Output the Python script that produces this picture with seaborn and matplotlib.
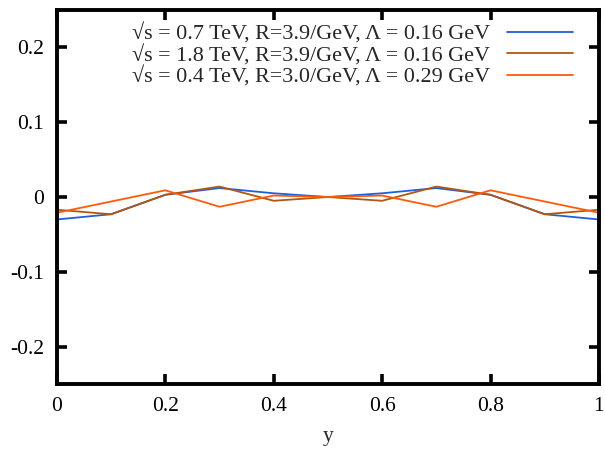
import matplotlib
matplotlib.use("Agg")
import matplotlib.pyplot as plt
import seaborn as sns
import pandas as pd

y_vals = [0.0, 0.1, 0.2, 0.3, 0.4, 0.5, 0.6, 0.7, 0.8, 0.9, 1.0]
series_a = [-0.030, -0.023, 0.003, 0.012, 0.005, 0.0, 0.005, 0.012, 0.003, -0.023, -0.030]
series_b = [-0.017, -0.023, 0.003, 0.014, -0.005, 0.0, -0.005, 0.014, 0.003, -0.023, -0.017]
series_c = [-0.021, -0.006, 0.009, -0.013, 0.002, 0.0, 0.002, -0.013, 0.009, -0.006, -0.021]
labels = [
    "√s = 0.7 TeV, R=3.9/GeV, Λ = 0.16 GeV",
    "√s = 1.8 TeV, R=3.9/GeV, Λ = 0.16 GeV",
    "√s = 0.4 TeV, R=3.0/GeV, Λ = 0.29 GeV",
]
colors = ["#1f5fd8", "#b3560f", "#ff5a0a"]

sns.set_style("ticks")
plt.rcParams["font.family"] = ["Liberation Serif", "DejaVu Serif"]

rows = []
for lab, vals in zip(labels, [series_a, series_b, series_c]):
    for x, v in zip(y_vals, vals):
        rows.append({"y": x, "val": v, "series": lab})
df = pd.DataFrame(rows)

fig = plt.figure(figsize=(6.05, 4.54), dpi=100)
ax = fig.add_axes([0.094, 0.154, 0.896, 0.824])

sns.lineplot(data=df, x="y", y="val", hue="series", hue_order=labels,
             palette=colors, linewidth=1.3, ax=ax, legend=True)

ax.set_xlim(0, 1)
ax.set_ylim(-0.25, 0.25)
ax.set_xticks([0, 0.2, 0.4, 0.6, 0.8, 1])
ax.set_xticklabels(["0", "0.2", "0.4", "0.6", "0.8", "1"])
ax.set_yticks([-0.2, -0.1, 0, 0.1, 0.2])
ax.set_yticklabels(["-0.2", "-0.1", "0", "0.1", "0.2"])
ax.set_xlabel("y", fontsize=15.5, labelpad=8)
ax.set_ylabel("")
for s in ax.spines.values():
    s.set_linewidth(2.8)
    s.set_color("black")
ax.tick_params(direction="in", length=7, width=2.6, labelsize=15.5,
               top=True, right=True, pad=9, colors="black")

leg = ax.legend(loc="upper right", bbox_to_anchor=(0.952, 0.964), frameon=False,
                markerfirst=False, fontsize=15.9, handlelength=3.0,
                handletextpad=0.75, labelspacing=0.02, borderpad=0,
                borderaxespad=0)

fig.savefig("out.png", dpi=100)
